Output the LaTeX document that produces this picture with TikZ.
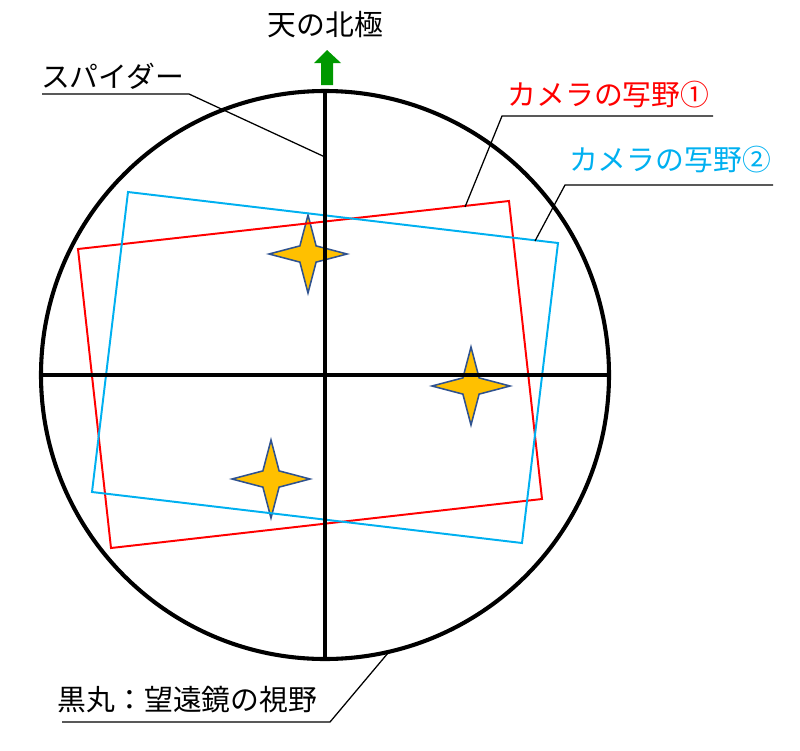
\documentclass[tikz,border=0pt]{standalone}
\usepackage{fontspec}
\setmainfont{Noto Sans CJK JP}
\usetikzlibrary{shapes.geometric}

\definecolor{camred}{HTML}{FF0000}
\definecolor{camblue}{HTML}{00B0F0}
\definecolor{poleg}{HTML}{009900}
\definecolor{starfill}{HTML}{FFC000}
\definecolor{starline}{HTML}{2F528F}

\tikzset{
	lbl/.style={inner sep=0pt, font=\fontsize{20.5}{24}\selectfont},
	leader/.style={draw=black, line width=0.9pt},
	starnode/.style={shape=star, star points=4, star point ratio=3.4, minimum size=1.95cm, inner sep=0pt, fill=starfill, draw=starline, line width=1.1pt},
	campath/.style={line width=1.4pt, line join=miter}
}

\begin{document}
\begin{tikzpicture}[x=0.025cm, y=-0.025cm]
	\useasboundingbox (0,0) rectangle (800,750);

	% stars
	\node[starnode] (s1) at (308, 254) {};
	\node[starnode] (s2) at (471, 386) {};
	\node[starnode] (s3) at (271, 479) {};

	% camera fields
	\draw[campath, draw=camred]  (78,249) -- (509,201) -- (542,499) -- (111,548) -- cycle;
	\draw[campath, draw=camblue] (128,192) -- (558,243) -- (522,543) -- (92,492) -- cycle;

	% spider and field of view
	\coordinate (c) at (325, 375);
	\coordinate (n) at (325, 91);
	\coordinate (s) at (325, 659);
	\coordinate (w) at (41, 375);
	\coordinate (e) at (609, 375);
	\draw[line width=2.5pt] (n) -- (s);
	\draw[line width=2.5pt] (w) -- (e);
	\draw[line width=2.9pt] (c) circle[radius=284];

	% north arrow
	\fill[poleg] (327,50) -- (341,63) -- (333,63) -- (333,85) -- (321,85) -- (321,63) -- (314,63) -- cycle;

	% labels
	\node[lbl] (pole) at (325.5, 25) {天の北極};
	\node[lbl] (spider) at (112.5, 76) {スパイダー};
	\node[lbl, text=camred] (cam1) at (608.5, 95) {カメラの写野①};
	\node[lbl, text=camblue] (cam2) at (670, 160) {カメラの写野②};
	\node[lbl] (scope) at (187.5, 699.5) {黒丸：望遠鏡の視野};

	\coordinate (spiderL) at (42, 94);
	\coordinate (spiderR) at (189, 94);
	\coordinate (spiderP) at (325, 157);
	\coordinate (cam1R) at (713, 116);
	\coordinate (cam1L) at (502, 116);
	\coordinate (cam1P) at (465, 207);
	\coordinate (cam2R) at (773, 185);
	\coordinate (cam2L) at (565, 185);
	\coordinate (cam2P) at (535, 241);
	\coordinate (scopeL) at (62, 722);
	\coordinate (scopeR) at (330, 722);
	\coordinate (scopeP) at (388, 653);

	\draw[leader] (spiderL) -- (spiderR) -- (spiderP);
	\draw[leader] (cam1R) -- (cam1L) -- (cam1P);
	\draw[leader] (cam2R) -- (cam2L) -- (cam2P);
	\draw[leader] (scopeL) -- (scopeR) -- (scopeP);
\end{tikzpicture}
\end{document}
